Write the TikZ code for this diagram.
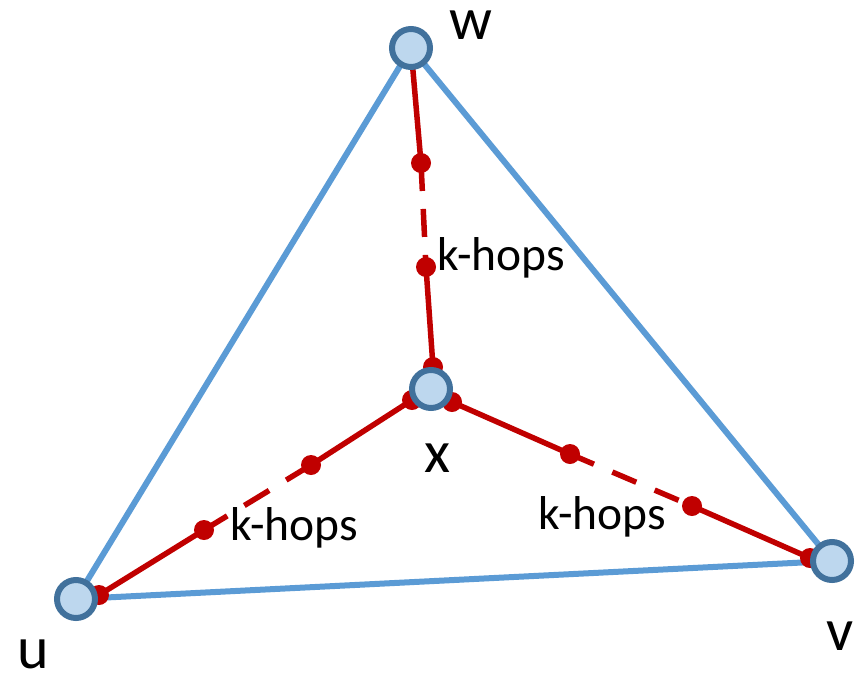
\documentclass[tikz,border=0pt]{standalone}
\usepackage{fontspec}
\setmainfont{Carlito}
\definecolor{edgeblue}{HTML}{5B9BD5}
\definecolor{hopred}{HTML}{C00000}
\definecolor{vborder}{HTML}{41719C}
\definecolor{vfill}{HTML}{BDD7EE}
\begin{document}
\begin{tikzpicture}[x=1pt,y=-1pt,
  blueedge/.style={draw=edgeblue,line width=6pt},
  rededge/.style={draw=hopred,line width=5.5pt},
  hopdot/.style={circle,fill=hopred,inner sep=0pt,minimum size=20pt},
  vertex/.style={circle,draw=vborder,fill=vfill,line width=6pt,minimum size=38pt,inner sep=0pt},
  lbl/.style={font=\fontsize{60}{60}\selectfont,inner sep=0pt,anchor=base,text height=28pt,text depth=0pt},
  hoplbl/.style={font=\fontsize{47.5}{47.5}\selectfont,inner sep=0pt,anchor=base west}]
\useasboundingbox (0,0) rectangle (867,675);
% positions
\coordinate (W) at (411,48);
\coordinate (X) at (431,389);
\coordinate (U) at (76,599);
\coordinate (V) at (832,561);
% triangle
\draw[blueedge] (W) -- (U);
\draw[blueedge] (W) -- (V);
\draw[blueedge] (U) -- (V);
% hop dots
\node[hopdot] (w1) at (421,163) {};
\node[hopdot] (w2) at (426,267) {};
\node[hopdot] (w3) at (433,367) {};
\node[hopdot] (u0) at (412,400) {};
\node[hopdot] (u1) at (311,465) {};
\node[hopdot] (u2) at (204,530) {};
\node[hopdot] (u3) at (99,595) {};
\node[hopdot] (v0) at (452,402) {};
\node[hopdot] (v1) at (570,454) {};
\node[hopdot] (v2) at (692,506) {};
\node[hopdot] (v3) at (810,558) {};
% red paths
\draw[rededge] (W) -- (w1.center);
\draw[rededge,dash pattern=on 28pt off 18pt] (w1.center) -- (w2.center);
\draw[rededge] (w2.center) -- (w3.center) -- (X);
\draw[rededge] (X) -- (u0.center) -- (u1.center);
\draw[rededge,dash pattern=on 29pt off 20pt] (u1.center) -- (u2.center);
\draw[rededge] (u2.center) -- (u3.center) -- (U);
\draw[rededge] (X) -- (v0.center) -- (v1.center);
\draw[rededge,dash pattern=on 26pt off 20pt] (v1.center) -- (v2.center);
\draw[rededge] (v2.center) -- (v3.center) -- (V);
% vertices
\node[vertex] (w) at (W) {};
\node[vertex] (x) at (X) {};
\node[vertex] (u) at (U) {};
\node[vertex] (v) at (V) {};
% labels
\node[lbl] (wl) at (471,39) {w};
\node[lbl] (xl) at (437,472) {x};
\node[lbl] (ul) at (33,668) {u};
\node[lbl] (vl) at (840,650) {v};
\node[hoplbl] (k1) at (437,270) {k-hops};
\node[hoplbl] (k2) at (230,540) {k-hops};
\node[hoplbl] (k3) at (538,529) {k-hops};
\end{tikzpicture}
\end{document}
